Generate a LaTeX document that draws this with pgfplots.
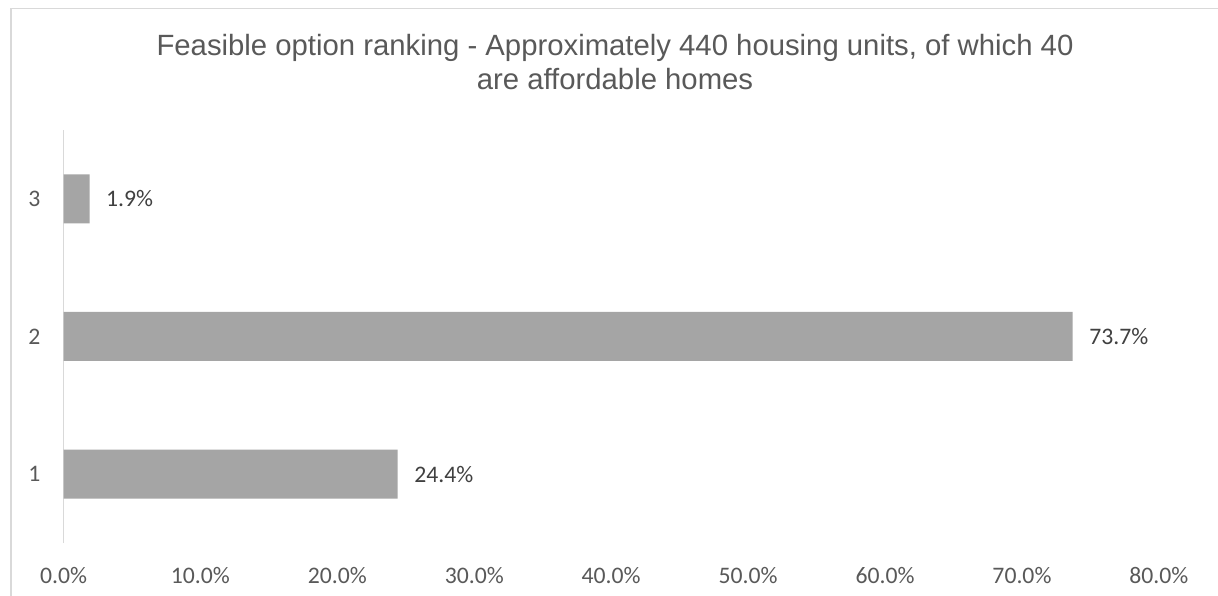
\documentclass[border=0pt]{standalone}
\usepackage{pgfplots}
\pgfplotsset{compat=1.18}
\usepackage{fontspec}
\setmainfont{Carlito}
\newfontfamily\titlefont{Liberation Sans}
\definecolor{bargray}{HTML}{A5A5A5}
\definecolor{axgray}{HTML}{D9D9D9}
\definecolor{txtgray}{HTML}{595959}
\definecolor{lblgray}{HTML}{404040}
\begin{document}
\begin{tikzpicture}
\path[use as bounding box] (0bp,0bp) rectangle (1218bp,596bp);
\draw[axgray, line width=1.5bp] (11bp,-5bp) -- (11bp,587.5bp) -- (1225bp,587.5bp);
\node[anchor=base, text=txtgray, inner sep=0pt, font=\titlefont\fontsize{29.3bp}{34bp}\selectfont] at (615bp,540.5bp) {Feasible option ranking - Approximately 440 housing units, of which 40};
\node[anchor=base, text=txtgray, inner sep=0pt, font=\titlefont\fontsize{29.3bp}{34bp}\selectfont] at (615bp,506.5bp) {are affordable homes};
\begin{axis}[
  at={(63.5bp,53bp)}, anchor=south west,
  scale only axis, width=1095.5bp, height=413bp,
  xmin=0, xmax=80, ymin=0.5, ymax=3.5,
  xbar, bar width=49bp,
  ytick={1,2,3},
  xtick={0,10,20,30,40,50,60,70,80},
  xticklabel={\pgfmathprintnumber[fixed,fixed zerofill,precision=1]{\tick}\%},
  /pgf/number format/assume math mode=true,
  axis x line=bottom, axis y line=left,
  x axis line style={draw=none,-},
  y axis line style={draw=axgray,-,line width=1.3bp},
  major tick length=0pt,
  tick style={draw=none},
  ticklabel style={text=txtgray, font=\fontsize{23.7bp}{28bp}\selectfont},
  xticklabel style={anchor=base, inner sep=0pt, yshift=-40bp},
  yticklabel style={anchor=east, inner sep=0pt, xshift=-23bp},
  nodes near coords={\pgfmathprintnumber[fixed,fixed zerofill,precision=1]{\pgfplotspointmeta}\%},
  nodes near coords style={anchor=west, inner sep=0pt, xshift=16.5bp, text=lblgray, font=\fontsize{23.7bp}{28bp}\selectfont, /pgf/number format/assume math mode=true},
  clip=false,
]
\addplot[fill=bargray, draw=none] coordinates {(24.4,1) (73.7,2) (1.9,3)};
\end{axis}
\end{tikzpicture}
\end{document}
